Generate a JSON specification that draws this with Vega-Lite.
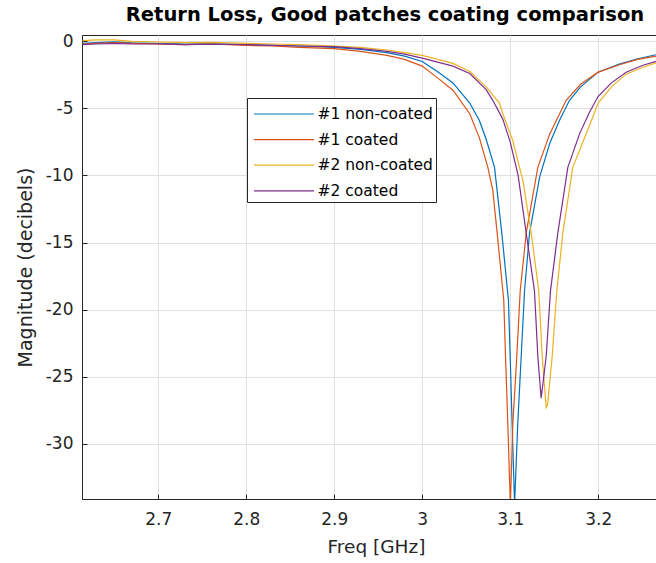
{
  "$schema": "https://vega.github.io/schema/vega-lite/v6.json",
  "width": 574,
  "height": 464,
  "autosize": {"type": "none"},
  "padding": {"left": 82, "top": 35, "right": 0, "bottom": 64},
  "background": "white",
  "config": {
    "font": "DejaVu Sans",
    "view": {"stroke": "#262626", "strokeWidth": 1}
  },
  "title": {
    "text": "Return Loss, Good patches coating comparison",
    "font": "DejaVu Sans",
    "fontSize": 19.5,
    "fontWeight": "bold",
    "color": "#000000",
    "dx": 16,
    "offset": 7
  },
  "datasets": {
    "s": [
      {"series": "#1 non-coated", "freq": 2.614, "db": -0.15},
      {"series": "#1 non-coated", "freq": 2.63, "db": -0.1},
      {"series": "#1 non-coated", "freq": 2.65, "db": -0.05},
      {"series": "#1 non-coated", "freq": 2.67, "db": -0.12},
      {"series": "#1 non-coated", "freq": 2.7, "db": -0.15},
      {"series": "#1 non-coated", "freq": 2.73, "db": -0.2},
      {"series": "#1 non-coated", "freq": 2.76, "db": -0.18},
      {"series": "#1 non-coated", "freq": 2.8, "db": -0.25},
      {"series": "#1 non-coated", "freq": 2.83, "db": -0.3},
      {"series": "#1 non-coated", "freq": 2.86, "db": -0.35},
      {"series": "#1 non-coated", "freq": 2.9, "db": -0.45},
      {"series": "#1 non-coated", "freq": 2.93, "db": -0.6},
      {"series": "#1 non-coated", "freq": 2.96, "db": -0.85},
      {"series": "#1 non-coated", "freq": 2.98, "db": -1.1},
      {"series": "#1 non-coated", "freq": 3.0, "db": -1.5},
      {"series": "#1 non-coated", "freq": 3.016, "db": -2.2},
      {"series": "#1 non-coated", "freq": 3.035, "db": -3.1},
      {"series": "#1 non-coated", "freq": 3.054, "db": -4.6},
      {"series": "#1 non-coated", "freq": 3.065, "db": -5.9},
      {"series": "#1 non-coated", "freq": 3.0727, "db": -7.3},
      {"series": "#1 non-coated", "freq": 3.0822, "db": -9.4},
      {"series": "#1 non-coated", "freq": 3.0905, "db": -14.3},
      {"series": "#1 non-coated", "freq": 3.098, "db": -19.3},
      {"series": "#1 non-coated", "freq": 3.1, "db": -23.5},
      {"series": "#1 non-coated", "freq": 3.1022, "db": -28.5},
      {"series": "#1 non-coated", "freq": 3.105, "db": -34.5},
      {"series": "#1 non-coated", "freq": 3.1086, "db": -28.5},
      {"series": "#1 non-coated", "freq": 3.1125, "db": -23.5},
      {"series": "#1 non-coated", "freq": 3.1163, "db": -18.6},
      {"series": "#1 non-coated", "freq": 3.122, "db": -14.3},
      {"series": "#1 non-coated", "freq": 3.1335, "db": -10.1},
      {"series": "#1 non-coated", "freq": 3.145, "db": -7.6},
      {"series": "#1 non-coated", "freq": 3.156, "db": -5.9},
      {"series": "#1 non-coated", "freq": 3.1674, "db": -4.4},
      {"series": "#1 non-coated", "freq": 3.18, "db": -3.4},
      {"series": "#1 non-coated", "freq": 3.2, "db": -2.3},
      {"series": "#1 non-coated", "freq": 3.224, "db": -1.7},
      {"series": "#1 non-coated", "freq": 3.245, "db": -1.3},
      {"series": "#1 non-coated", "freq": 3.2657, "db": -1.0},

      {"series": "#1 coated", "freq": 2.614, "db": -0.2},
      {"series": "#1 coated", "freq": 2.63, "db": -0.15},
      {"series": "#1 coated", "freq": 2.65, "db": -0.1},
      {"series": "#1 coated", "freq": 2.67, "db": -0.15},
      {"series": "#1 coated", "freq": 2.7, "db": -0.2},
      {"series": "#1 coated", "freq": 2.73, "db": -0.25},
      {"series": "#1 coated", "freq": 2.76, "db": -0.2},
      {"series": "#1 coated", "freq": 2.8, "db": -0.3},
      {"series": "#1 coated", "freq": 2.83, "db": -0.35},
      {"series": "#1 coated", "freq": 2.86, "db": -0.45},
      {"series": "#1 coated", "freq": 2.9, "db": -0.55},
      {"series": "#1 coated", "freq": 2.93, "db": -0.75},
      {"series": "#1 coated", "freq": 2.96, "db": -1.05},
      {"series": "#1 coated", "freq": 2.98, "db": -1.35},
      {"series": "#1 coated", "freq": 3.0, "db": -1.85},
      {"series": "#1 coated", "freq": 3.016, "db": -2.65},
      {"series": "#1 coated", "freq": 3.035, "db": -3.65},
      {"series": "#1 coated", "freq": 3.054, "db": -5.4},
      {"series": "#1 coated", "freq": 3.065, "db": -7.2},
      {"series": "#1 coated", "freq": 3.0746, "db": -9.4},
      {"series": "#1 coated", "freq": 3.0802, "db": -11.1},
      {"series": "#1 coated", "freq": 3.0852, "db": -14.3},
      {"series": "#1 coated", "freq": 3.0927, "db": -19.3},
      {"series": "#1 coated", "freq": 3.0947, "db": -23.5},
      {"series": "#1 coated", "freq": 3.0973, "db": -28.5},
      {"series": "#1 coated", "freq": 3.1002, "db": -34.6},
      {"series": "#1 coated", "freq": 3.103, "db": -28.5},
      {"series": "#1 coated", "freq": 3.1075, "db": -23.5},
      {"series": "#1 coated", "freq": 3.1114, "db": -18.6},
      {"series": "#1 coated", "freq": 3.1182, "db": -14.3},
      {"series": "#1 coated", "freq": 3.1314, "db": -9.4},
      {"series": "#1 coated", "freq": 3.145, "db": -6.9},
      {"series": "#1 coated", "freq": 3.1636, "db": -4.4},
      {"series": "#1 coated", "freq": 3.18, "db": -3.2},
      {"series": "#1 coated", "freq": 3.2, "db": -2.3},
      {"series": "#1 coated", "freq": 3.224, "db": -1.75},
      {"series": "#1 coated", "freq": 3.245, "db": -1.35},
      {"series": "#1 coated", "freq": 3.2657, "db": -1.1},

      {"series": "#2 non-coated", "freq": 2.614, "db": 0.05},
      {"series": "#2 non-coated", "freq": 2.63, "db": 0.1},
      {"series": "#2 non-coated", "freq": 2.65, "db": 0.1},
      {"series": "#2 non-coated", "freq": 2.67, "db": 0.0},
      {"series": "#2 non-coated", "freq": 2.7, "db": -0.05},
      {"series": "#2 non-coated", "freq": 2.73, "db": -0.1},
      {"series": "#2 non-coated", "freq": 2.76, "db": -0.08},
      {"series": "#2 non-coated", "freq": 2.8, "db": -0.15},
      {"series": "#2 non-coated", "freq": 2.83, "db": -0.2},
      {"series": "#2 non-coated", "freq": 2.86, "db": -0.25},
      {"series": "#2 non-coated", "freq": 2.9, "db": -0.35},
      {"series": "#2 non-coated", "freq": 2.93, "db": -0.45},
      {"series": "#2 non-coated", "freq": 2.96, "db": -0.65},
      {"series": "#2 non-coated", "freq": 2.98, "db": -0.85},
      {"series": "#2 non-coated", "freq": 3.0, "db": -1.05},
      {"series": "#2 non-coated", "freq": 3.035, "db": -1.65},
      {"series": "#2 non-coated", "freq": 3.054, "db": -2.25},
      {"series": "#2 non-coated", "freq": 3.0727, "db": -3.4},
      {"series": "#2 non-coated", "freq": 3.0878, "db": -4.6},
      {"series": "#2 non-coated", "freq": 3.0916, "db": -5.4},
      {"series": "#2 non-coated", "freq": 3.103, "db": -7.4},
      {"series": "#2 non-coated", "freq": 3.1106, "db": -9.4},
      {"series": "#2 non-coated", "freq": 3.1143, "db": -10.3},
      {"series": "#2 non-coated", "freq": 3.1239, "db": -14.3},
      {"series": "#2 non-coated", "freq": 3.1325, "db": -18.6},
      {"series": "#2 non-coated", "freq": 3.1364, "db": -23.5},
      {"series": "#2 non-coated", "freq": 3.1409, "db": -27.3},
      {"series": "#2 non-coated", "freq": 3.1425, "db": -27.1},
      {"series": "#2 non-coated", "freq": 3.1477, "db": -23.5},
      {"series": "#2 non-coated", "freq": 3.153, "db": -18.6},
      {"series": "#2 non-coated", "freq": 3.1598, "db": -14.3},
      {"series": "#2 non-coated", "freq": 3.1711, "db": -9.4},
      {"series": "#2 non-coated", "freq": 3.19, "db": -6.3},
      {"series": "#2 non-coated", "freq": 3.2, "db": -4.6},
      {"series": "#2 non-coated", "freq": 3.215, "db": -3.4},
      {"series": "#2 non-coated", "freq": 3.2318, "db": -2.45},
      {"series": "#2 non-coated", "freq": 3.25, "db": -1.95},
      {"series": "#2 non-coated", "freq": 3.2657, "db": -1.6},

      {"series": "#2 coated", "freq": 2.614, "db": -0.25},
      {"series": "#2 coated", "freq": 2.63, "db": -0.2},
      {"series": "#2 coated", "freq": 2.65, "db": -0.15},
      {"series": "#2 coated", "freq": 2.67, "db": -0.2},
      {"series": "#2 coated", "freq": 2.7, "db": -0.2},
      {"series": "#2 coated", "freq": 2.73, "db": -0.25},
      {"series": "#2 coated", "freq": 2.76, "db": -0.22},
      {"series": "#2 coated", "freq": 2.8, "db": -0.25},
      {"series": "#2 coated", "freq": 2.83, "db": -0.3},
      {"series": "#2 coated", "freq": 2.86, "db": -0.35},
      {"series": "#2 coated", "freq": 2.9, "db": -0.4},
      {"series": "#2 coated", "freq": 2.93, "db": -0.55},
      {"series": "#2 coated", "freq": 2.96, "db": -0.75},
      {"series": "#2 coated", "freq": 2.98, "db": -0.95},
      {"series": "#2 coated", "freq": 3.0, "db": -1.25},
      {"series": "#2 coated", "freq": 3.035, "db": -1.85},
      {"series": "#2 coated", "freq": 3.054, "db": -2.4},
      {"series": "#2 coated", "freq": 3.0727, "db": -3.6},
      {"series": "#2 coated", "freq": 3.0802, "db": -4.4},
      {"series": "#2 coated", "freq": 3.0916, "db": -5.8},
      {"series": "#2 coated", "freq": 3.1, "db": -7.5},
      {"series": "#2 coated", "freq": 3.109, "db": -10.0},
      {"series": "#2 coated", "freq": 3.1182, "db": -14.3},
      {"series": "#2 coated", "freq": 3.1276, "db": -18.6},
      {"series": "#2 coated", "freq": 3.1314, "db": -23.5},
      {"series": "#2 coated", "freq": 3.1352, "db": -26.6},
      {"series": "#2 coated", "freq": 3.1409, "db": -23.5},
      {"series": "#2 coated", "freq": 3.1458, "db": -18.6},
      {"series": "#2 coated", "freq": 3.1541, "db": -14.3},
      {"series": "#2 coated", "freq": 3.1655, "db": -9.4},
      {"series": "#2 coated", "freq": 3.1788, "db": -6.9},
      {"series": "#2 coated", "freq": 3.19, "db": -5.3},
      {"series": "#2 coated", "freq": 3.2, "db": -4.1},
      {"series": "#2 coated", "freq": 3.215, "db": -3.1},
      {"series": "#2 coated", "freq": 3.2318, "db": -2.3},
      {"series": "#2 coated", "freq": 3.25, "db": -1.8},
      {"series": "#2 coated", "freq": 3.2657, "db": -1.5}
    ]
  },
  "data": {"name": "s"},
  "mark": {"type": "line", "strokeWidth": 1.2, "clip": true},
  "encoding": {
    "x": {
      "field": "freq",
      "type": "quantitative",
      "scale": {"domain": [2.6134, 3.2657], "nice": false, "zero": false},
      "axis": {
        "title": "Freq [GHz]",
        "values": [2.7, 2.8, 2.9, 3, 3.1, 3.2],
        "format": "~g",
        "labelFontSize": 17,
        "labelColor": "#262626",
        "labelPadding": 17,
        "titleFontSize": 18.5,
        "titleFontWeight": "normal",
        "titleColor": "#262626",
        "titlePadding": 10,
        "titleX": 294,
        "domainColor": "#262626",
        "tickColor": "#262626",
        "tickSize": -5,
        "gridColor": "#dfdfdf",
        "gridOpacity": 1
      }
    },
    "y": {
      "field": "db",
      "type": "quantitative",
      "scale": {"domain": [-34.12, 0.47], "nice": false, "zero": false},
      "axis": {
        "title": "Magnitude (decibels)",
        "values": [0, -5, -10, -15, -20, -25, -30],
        "labelExpr": "'' + datum.value",
        "labelFontSize": 17,
        "labelColor": "#262626",
        "labelPadding": 14,
        "titleFontSize": 19,
        "titleFontWeight": "normal",
        "titleColor": "#262626",
        "titlePadding": 10,
        "domainColor": "#262626",
        "tickColor": "#262626",
        "tickSize": -5,
        "gridColor": "#dfdfdf",
        "gridOpacity": 1
      }
    },
    "color": {
      "field": "series",
      "type": "nominal",
      "scale": {
        "domain": ["#1 non-coated", "#1 coated", "#2 non-coated", "#2 coated"],
        "range": ["#0072BD", "#D95319", "#EDB120", "#7E2F8E"]
      },
      "legend": {
        "title": null,
        "orient": "none",
        "legendX": 165,
        "legendY": 63,
        "symbolType": "M-2.4,0H2.4",
        "symbolSize": 625,
        "symbolStrokeWidth": 1.2,
        "symbolOffset": 21,
        "labelFontSize": 15.5,
        "labelColor": "#000000",
        "labelOffset": 20,
        "strokeColor": "#262626",
        "fillColor": "white",
        "padding": 2.5,
        "rowPadding": 3.6
      }
    }
  }
}
